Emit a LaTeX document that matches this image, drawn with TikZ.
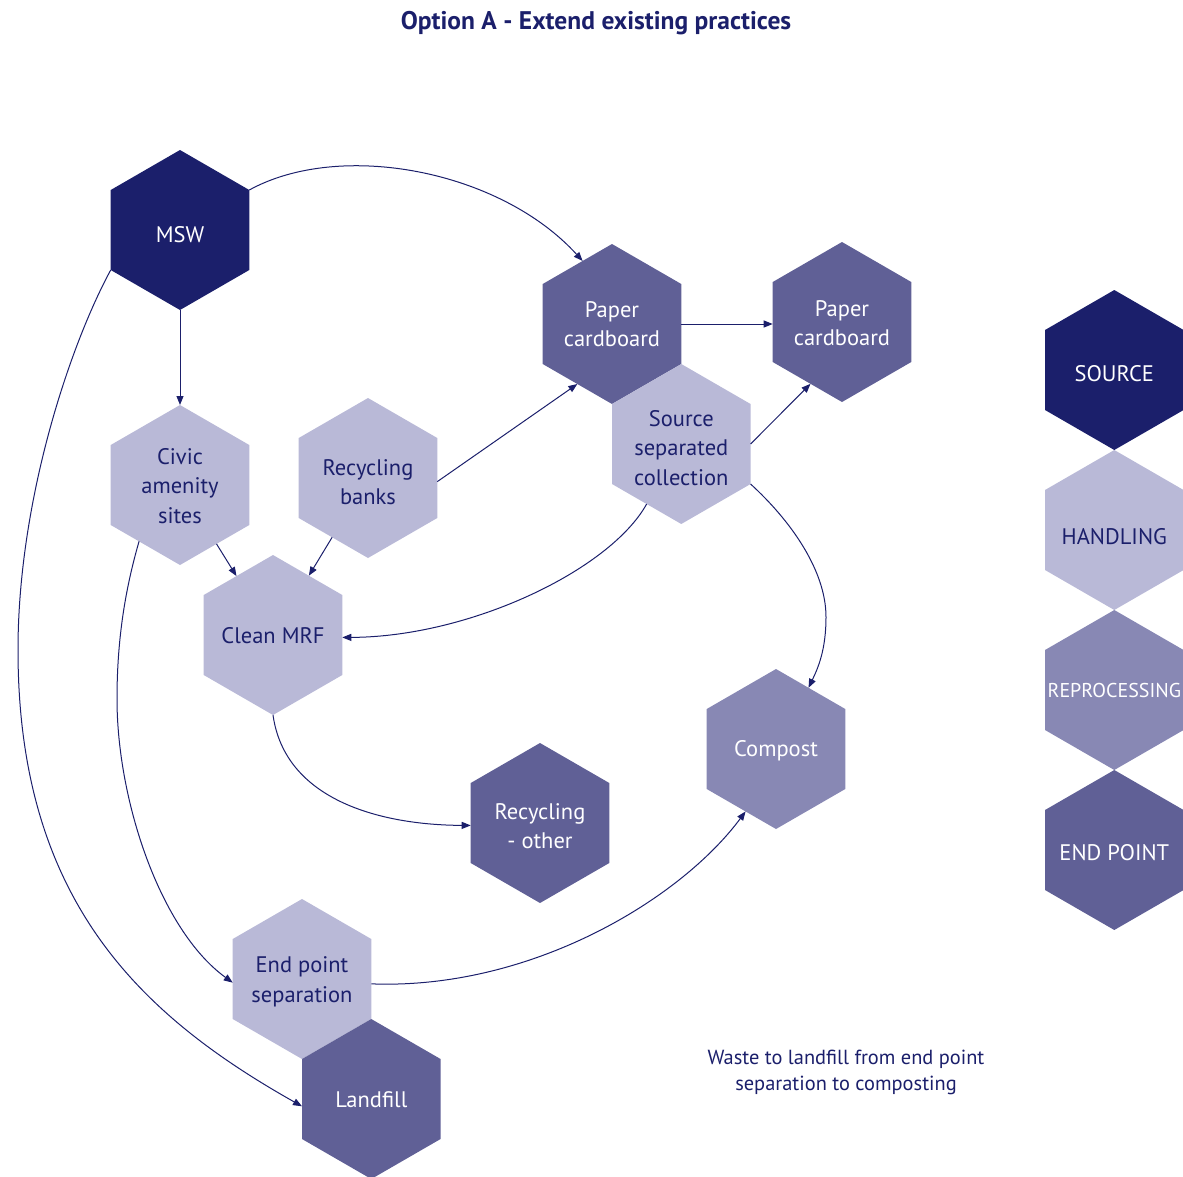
\documentclass[tikz,border=0pt]{standalone}
\usepackage{fontspec}
\setmainfont{PT Sans}
\usetikzlibrary{shapes.geometric,arrows.meta}
\definecolor{cSource}{RGB}{27,31,107}
\definecolor{cHandling}{RGB}{185,185,215}
\definecolor{cReproc}{RGB}{136,136,180}
\definecolor{cEnd}{RGB}{96,96,150}
\definecolor{cInk}{RGB}{27,31,107}

\begin{document}
\begin{tikzpicture}[x=1pt,y=-1pt,
  hexagon/.style={regular polygon, regular polygon sides=6, shape border rotate=30,
    minimum size=160pt, inner sep=0pt, outer sep=0pt, draw=none},
  srchex/.style={hexagon, fill=cSource},
  handhex/.style={hexagon, fill=cHandling},
  rephex/.style={hexagon, fill=cReproc},
  endhex/.style={hexagon, fill=cEnd},
  txt/.style={align=center, inner sep=0pt, font=\fontsize{22.5}{29.5}\selectfont},
  lighttxt/.style={txt, text=white},
  darktxt/.style={txt, text=cInk},
  flow/.style={draw=cInk, line width=1pt, -{Triangle[length=9pt,width=7pt]}}
]
\useasboundingbox (0,0) rectangle (1183,1176);

% title
\node[text=cInk, font=\fontsize{25.5}{30}\selectfont\bfseries] (title) at (596,23) {Option A - Extend existing practices};

% process hexagons
\node[srchex]  (msw)     at (180,230) {};
\node[handhex] (civic)   at (180,485) {};
\node[handhex] (banks)   at (368,478) {};
\node[endhex]  (pc1)     at (612,324) {};
\node[handhex] (ssc)     at (681.28,444) {};
\node[endhex]  (pc2)     at (842,322) {};
\node[handhex] (cmrf)    at (273,635) {};
\node[endhex]  (recoth)  at (540,823) {};
\node[rephex]  (compost) at (776,749) {};
\node[handhex] (eps)     at (302,979) {};
\node[endhex]  (land)    at (371.28,1099) {};

% labels (yshift is in canvas units: negative moves down)
\node[lighttxt] (msw-t)     at ([yshift=-5]msw)     {MSW};
\node[darktxt]  (civic-t)   at ([yshift=-1]civic)   {Civic\\amenity\\sites};
\node[darktxt]  (banks-t)   at ([yshift=-4]banks)   {Recycling\\banks};
\node[lighttxt] (pc1-t)     at (pc1)                {Paper\\cardboard};
\node[darktxt]  (ssc-t)     at ([yshift=-4]ssc)     {Source\\separated\\collection};
\node[lighttxt] (pc2-t)     at ([yshift=-1]pc2)     {Paper\\cardboard};
\node[darktxt]  (cmrf-t)    at ([yshift=-1]cmrf)    {Clean MRF};
\node[lighttxt] (recoth-t)  at ([yshift=-3]recoth)  {Recycling\\- other};
\node[lighttxt] (compost-t) at ([yshift=-2]compost) {Compost};
\node[darktxt]  (eps-t)     at ([yshift=-3]eps)     {End point\\separation};
\node[lighttxt] (land-t)    at ([yshift=-1]land)    {Landfill};

% key
\node[srchex]  (k1) at (1114.3,370) {};
\node[handhex] (k2) at (1114.3,530) {};
\node[rephex]  (k3) at (1114.3,690) {};
\node[endhex]  (k4) at (1114.3,850) {};
\node[lighttxt] (k1-t) at ([yshift=-4]k1) {SOURCE};
\node[darktxt]  (k2-t) at ([yshift=-7]k2) {HANDLING};
\node[lighttxt, font=\fontsize{20}{24}\selectfont] (k3-t) at (k3) {REPROCESSING};
\node[lighttxt] (k4-t) at ([yshift=-3]k4) {END POINT};

% note
\node[text=cInk, align=center, font=\fontsize{20.4}{26}\selectfont] (note) at (846,1072)
  {Waste to landfill from end point\\separation to composting};

% flows
\draw[flow] (msw.30) .. controls (340,140) and (500,170) .. (pc1.115);
\draw[flow] (msw) -- (civic);
\draw[flow] (msw.210) .. controls (70,345) and (18,500) .. (18,650)
                      .. controls (18,900) and (140,1015) .. (land.186);
\draw[flow] (civic) -- (cmrf);
\draw[flow] (banks) -- (cmrf);
\draw[flow] (banks.357) -- (pc1.240);
\draw[flow] (pc1.0) -- (pc1.0 -| pc2.180);
\draw[flow] (ssc.0) -- (pc2.243);
\draw[flow] (ssc.240) .. controls (610,570) and (470,637) .. (cmrf.358);
\draw[flow] (ssc.330) .. controls (790,520) and (826,570) .. (826,617)
                      .. controls (826,650) and (818,668) .. (compost.62);
\draw[flow] (cmrf.270) .. controls (285,800) and (380,825) .. (recoth.182);
\draw[flow] (civic.234) .. controls (125,590) and (117,640) .. (117,699)
                        .. controls (117,800) and (160,930) .. (eps.183);
\draw[flow] (eps.356) .. controls (530,990) and (680,900) .. (compost.244);
\end{tikzpicture}
\end{document}
